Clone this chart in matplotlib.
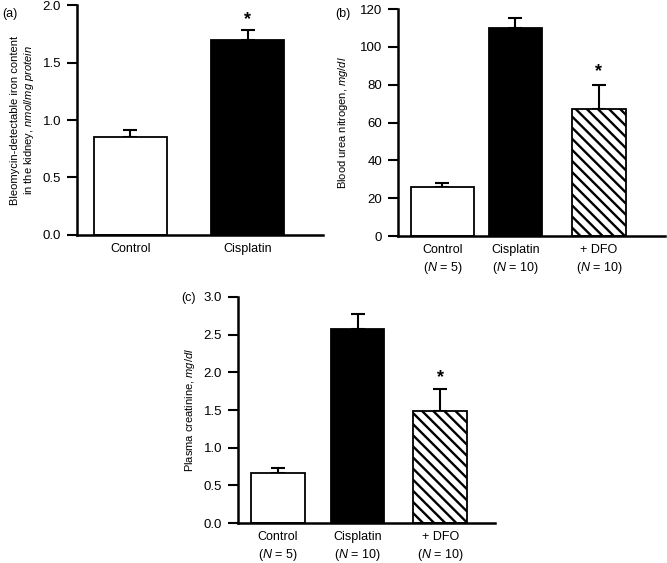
import matplotlib
matplotlib.use("Agg")
import matplotlib.pyplot as plt

plt.rcParams['font.family'] = ['Liberation Sans', 'DejaVu Sans']
plt.rcParams['mathtext.fontset'] = 'custom'
plt.rcParams['mathtext.rm'] = 'Liberation Sans'
plt.rcParams['mathtext.it'] = 'Liberation Sans:italic'
plt.rcParams['hatch.linewidth'] = 1.7

# panel (a): bleomycin-detectable iron
a_groups = ['Control', 'Cisplatin']
a_means = [0.85, 1.70]
a_sem = [0.06, 0.08]
a_star = [False, True]

# panel (b): blood urea nitrogen
b_groups = ['Control\n($\\it{N}$ = 5)', 'Cisplatin\n($\\it{N}$ = 10)', '+ DFO\n($\\it{N}$ = 10)']
b_means = [26, 110, 67]
b_sem = [2, 5, 13]
b_star = [False, False, True]

# panel (c): plasma creatinine
c_groups = b_groups
c_means = [0.67, 2.58, 1.49]
c_sem = [0.06, 0.19, 0.29]
c_star = [False, False, True]

fills = ['white', 'black', 'white']
hatches = [None, None, '\\\\\\']


def draw_panel(ax, pos, widths, groups, means, sem, stars, ylim, yticks, fmt, star_off):
    for i in range(len(means)):
        ax.bar(pos[i], means[i], width=widths[i], color=fills[i], edgecolor='black',
               linewidth=1.3, hatch=hatches[i], zorder=2)
        ax.errorbar(pos[i], means[i], yerr=[[0], [sem[i]]], color='black', lw=1.5,
                    capsize=4.7, capthick=1.5, zorder=1)
        if stars[i]:
            ax.text(pos[i], means[i] + sem[i] + star_off, '*', ha='center', va='center',
                    fontsize=13, fontweight='bold')
    ax.set_ylim(*ylim)
    ax.set_yticks(yticks)
    ax.set_yticklabels([fmt.format(t) for t in yticks], fontsize=9.5)
    ax.set_xticks(pos)
    ax.set_xticklabels(groups, fontsize=9, linespacing=1.35)
    ax.tick_params(axis='x', length=0, pad=6)
    ax.tick_params(axis='y', direction='out', length=7.5, width=1.5, pad=4)
    for s in ['top', 'right']:
        ax.spines[s].set_visible(False)
    for s in ['left', 'bottom']:
        ax.spines[s].set_linewidth(1.8)


fig = plt.figure(figsize=(6.67, 5.63), dpi=100)

ax_a = fig.add_axes([0.1154, 0.5826, 0.3688, 0.4085])
draw_panel(ax_a, [0, 1], [0.62, 0.62], a_groups, a_means, a_sem, a_star,
           (0, 2.0), [0, 0.5, 1.0, 1.5, 2.0], '{:.1f}', 0.09)
ax_a.set_xlim(-0.455, 1.64)
ax_a.set_ylabel('Bleomycin-detectable iron content\nin the kidney, $\\it{nmol/mg\\ protein}$',
                fontsize=8, labelpad=5)
fig.text(0.003, 0.985, '(a)', fontsize=9, va='top')

ax_b = fig.add_axes([0.5967, 0.5808, 0.4003, 0.4032])
draw_panel(ax_b, [0, 1, 2.144], [0.863, 0.726, 0.74], b_groups, b_means, b_sem, b_star,
           (0, 120), [0, 20, 40, 60, 80, 100, 120], '{:d}', 7)
ax_b.set_xlim(-0.61, 3.05)
ax_b.set_ylabel('Blood urea nitrogen, $\\it{mg/dl}$', fontsize=8, labelpad=7)
fig.text(0.503, 0.985, '(b)', fontsize=9, va='top')

ax_c = fig.add_axes([0.3568, 0.071, 0.3853, 0.4015])
draw_panel(ax_c, [0, 0.994, 2.025], [0.675, 0.663, 0.675], c_groups, c_means, c_sem, c_star,
           (0, 3.0), [0, 0.5, 1.0, 1.5, 2.0, 2.5, 3.0], '{:.1f}', 0.15)
ax_c.set_xlim(-0.5, 2.71)
ax_c.set_ylabel('Plasma creatinine, $\\it{mg/dl}$', fontsize=8, labelpad=5)
fig.text(0.272, 0.482, '(c)', fontsize=9, va='top')

fig.savefig('out.png', dpi=100)
